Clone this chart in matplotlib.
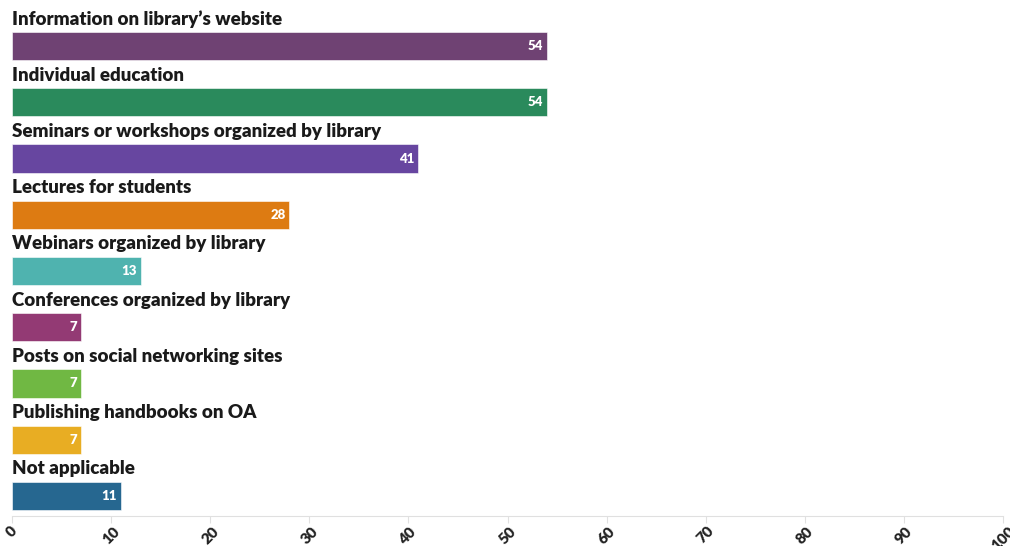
import matplotlib
matplotlib.use("Agg")
import matplotlib.pyplot as plt

categories = [
    "Information on library\u2019s website",
    "Individual education",
    "Seminars or workshops organized by library",
    "Lectures for students",
    "Webinars organized by library",
    "Conferences organized by library",
    "Posts on social networking sites",
    "Publishing handbooks on OA",
    "Not applicable",
]
values = [54, 54, 41, 28, 13, 7, 7, 7, 11]
colors = ["#6f4273", "#2a8a5c", "#6746a0", "#dd7b12", "#4fb3af",
          "#933a74", "#70b843", "#e8ad23", "#266790"]
xticks = [0, 10, 20, 30, 40, 50, 60, 70, 80, 90, 100]

plt.rcParams["font.family"] = ["Lato", "DejaVu Sans"]

fig = plt.figure(figsize=(10.1, 5.46), dpi=100)
ax = fig.add_axes([12 / 1010, 30 / 546, 991 / 1010, 516 / 546])

pos = list(range(len(categories)))
ax.barh(pos, values, height=0.5, color=colors, edgecolor="white", linewidth=0.4)

for i, (cat, v) in enumerate(zip(categories, values)):
    ax.text(0, i - 0.48, cat, ha="left", va="center", fontsize=13.5,
            fontweight="heavy", color="#1a1a1a")
    ax.text(v - 0.4, i, str(v), ha="right", va="center", fontsize=9.5,
            fontweight="heavy", color="white")

ax.set_xlim(0, 100)
ax.set_ylim(8.356, -0.818)
ax.set_xticks(xticks)
ax.set_xticklabels([str(t) for t in xticks], rotation=45, fontsize=11,
                   fontweight="heavy", color="#222222", ha="center", va="top")
ax.tick_params(axis="x", length=5, color="#e0e0e0", pad=1)
ax.set_yticks([])
for s in ["top", "right", "left"]:
    ax.spines[s].set_visible(False)
ax.spines["bottom"].set_color("#e0e0e0")

fig.savefig("out.png", dpi=100)
